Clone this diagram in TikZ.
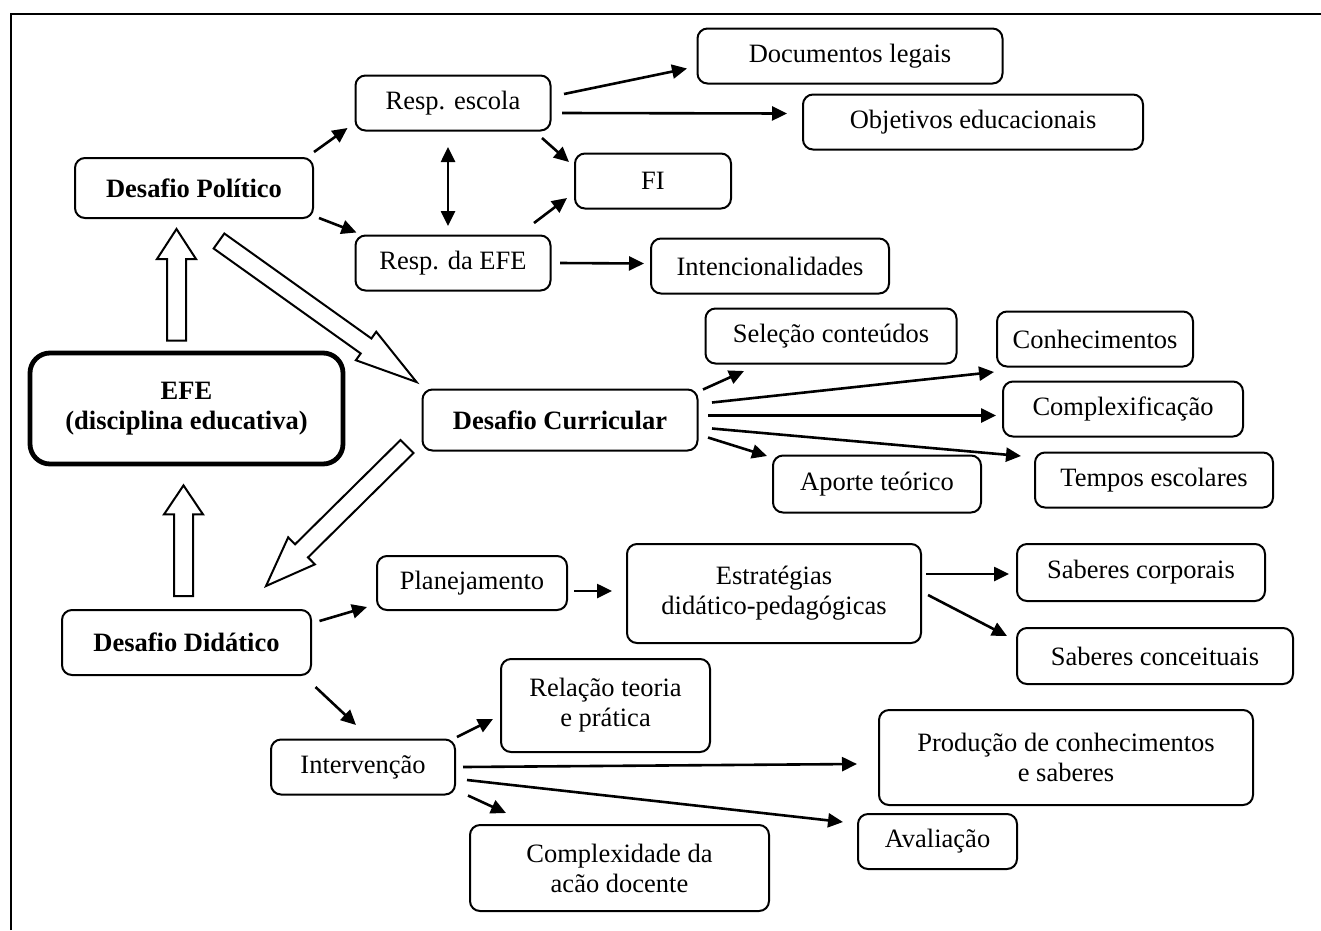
\documentclass[tikz,border=0pt]{standalone}
\usepackage{fontspec}
\setmainfont{Liberation Serif}
\usetikzlibrary{arrows.meta,calc}
\tikzset{
  box/.style={draw, line width=2pt, rounded corners=10pt, inner sep=0pt, align=center,
    font=\fontsize{26.5}{30}\selectfont},
  bbox/.style={box, font=\fontsize{26.5}{30}\selectfont\bfseries},
  sz/.style 2 args={minimum width=#1pt, minimum height=#2pt},
  conn/.style={line width=2.6pt, -{Triangle[length=15pt,width=14pt]}},
  dconn/.style={line width=2.6pt, {Triangle[length=15pt,width=14pt]}-{Triangle[length=15pt,width=14pt]}},
  blk/.style={draw, line width=2pt, fill=white, line join=miter},
  frame/.style={line width=2pt},
}
% #1 start, #2 tip, #3 shaft half width, #4 head half width, #5 head length
\newcommand\blockarr[5]{%
  \coordinate (bH) at ($(#2)!#5!(#1)$);
  \draw[blk] ($(#1)!#3!90:(#2)$) -- ($(bH)!#3!-90:(#1)$) -- ($(bH)!#4!-90:(#1)$)
     -- (#2) -- ($(bH)!#4!90:(#1)$) -- ($(bH)!#3!90:(#1)$) -- ($(#1)!#3!-90:(#2)$) -- cycle;
}
\begin{document}
\begin{tikzpicture}[x=1pt,y=-1pt]
\useasboundingbox (0,0) rectangle (1321,930);
\coordinate (fA) at (11,930);
\coordinate (fB) at (11,14);
\coordinate (fC) at (1321,14);
\draw[frame] (fA) -- (fB) -- (fC);

% nodes
\node[bbox, sz={238}{60}] (pol) at (194,188) {Desafio Político};
\node[box, sz={195}{55}] (esc) at (453,103) {Resp. escola};
\node[box, sz={195}{55}] (efr) at (453,263) {Resp. da EFE};
\node[box, sz={305}{55}] (doc) at (850,56) {Documentos legais};
\node[box, sz={340}{55}] (obj) at (973,122) {Objetivos educacionais};
\node[box, sz={156}{55}] (fi) at (653,181) {FI};
\node[box, sz={238}{55}] (int) at (770,266) {Intencionalidades};
\node[bbox, sz={313}{111}, line width=4.8pt, rounded corners=20pt] (efe) at (186.5,408.5) {EFE\\(disciplina educativa)};
\node[bbox, sz={275}{61}] (cur) at (560,420) {Desafio Curricular};
\node[box, sz={251}{55}] (sel) at (831,336) {Seleção conteúdos};
\node[box, sz={196}{55}] (con) at (1095,339) {Conhecimentos};
\node[box, sz={240}{55}] (cpx) at (1123,409) {Complexificação};
\node[box, sz={238}{55}] (tem) at (1154,480) {Tempos escolares};
\node[box, sz={208}{57}] (apo) at (877,484) {Aporte teórico};
\node[bbox, sz={249}{65}] (did) at (186.5,642.5) {Desafio Didático};
\node[box, sz={190}{54}] (pla) at (472,583) {Planejamento};
\node[box, sz={294}{99}] (est) at (774,593.5) {Estratégias\\didático-pedagógicas};
\node[box, sz={248}{57}] (sco) at (1141,572.5) {Saberes corporais};
\node[box, sz={276}{56}] (sce) at (1155,656) {Saberes conceituais};
\node[box, sz={184}{55}] (itv) at (363,767) {Intervenção};
\node[box, sz={209}{93}] (rel) at (605.5,705.5) {Relação teoria\\e prática};
\node[box, sz={374}{95}] (pro) at (1066,757.5) {Produção de conhecimentos\\e saberes};
\node[box, sz={299}{86}] (cxd) at (619.5,868) {Complexidade da\\acão docente};
\node[box, sz={159}{55}] (ava) at (937.5,841.5) {Avaliação};

% connectors
\draw[conn] ([yshift=5pt]pol.north east) -- ([xshift=-7pt,yshift=3.5pt]esc.south west);
\draw[conn] ([xshift=5pt,yshift=1pt]pol.south east) -- ([xshift=2pt,yshift=2pt]efr.north west);
\draw[conn] ([xshift=12.5pt,yshift=9pt]esc.east) -- ([xshift=-9.5pt,yshift=-12.5pt]doc.west);
\draw[conn] ([xshift=10.5pt,yshift=-10pt]esc.east) -- ([xshift=-15pt,yshift=8.5pt]obj.west);
\draw[conn] ([xshift=-9.5pt,yshift=-6.5pt]esc.south east) -- ([xshift=-5pt,yshift=-9.5pt]fi.north west);
\draw[conn] ([xshift=-17.5pt,yshift=11.5pt]efr.north east) -- ([xshift=-7pt,yshift=11.5pt]fi.south west);
\draw[dconn] ([xshift=-5pt,yshift=-15.5pt]esc.south) -- ([xshift=-5pt,yshift=8.5pt]efr.north);
\draw[conn] ([xshift=8.5pt]efr.east) -- ([xshift=-6pt,yshift=2.5pt]int.west);

\draw[conn] ([xshift=4.5pt,yshift=30.5pt]cur.east) -- ([xshift=39.5pt,yshift=-6.5pt]sel.south west);
\draw[conn] ([xshift=13.5pt,yshift=17.5pt]cur.east) -- ([xshift=-2pt,yshift=-4.5pt]con.south west);
\draw[conn] ([xshift=9.5pt,yshift=4.5pt]cur.east) -- ([xshift=-6pt,yshift=-6.5pt]cpx.west);
\draw[conn] ([xshift=13.5pt,yshift=-8.5pt]cur.east) -- ([xshift=-13pt,yshift=-4.5pt]tem.north west);
\draw[conn] ([xshift=9.5pt,yshift=-17.5pt]cur.east) -- ([xshift=-5pt,yshift=-1.5pt]apo.north west);

\draw[conn] ([xshift=7.5pt,yshift=21.5pt]did.east) -- ([xshift=-9pt,yshift=4pt]pla.south west);
\draw[conn] ([xshift=3.5pt,yshift=-11pt]did.south east) -- ([xshift=-7pt,yshift=13.5pt]itv.north);
\draw[conn] ([xshift=6pt,yshift=-8pt]pla.east) -- ([xshift=-14pt,yshift=2.5pt]est.west);
\draw[conn] ([xshift=4pt,yshift=19.5pt]est.east) -- ([xshift=-7pt,yshift=-1.5pt]sco.west);
\draw[conn] ([xshift=6pt,yshift=-1.5pt]est.east) -- ([xshift=-9pt,yshift=-9pt]sce.north west);

\draw[conn] ([xshift=1pt,yshift=1.5pt]itv.north east) -- ([xshift=-7pt,yshift=-13.5pt]rel.west);
\draw[conn] ([xshift=7pt]itv.east) -- ([xshift=-21pt,yshift=-6.5pt]pro.west);
\draw[conn] ([xshift=11pt,yshift=-13pt]itv.east) -- ([xshift=-14pt,yshift=19.5pt]ava.west);
\draw[conn] ([xshift=12pt]itv.south east) -- ([xshift=37pt,yshift=11pt]cxd.north west);

% block arrows
\coordinate (b1s) at ([xshift=-10pt,yshift=10pt]efe.north);
\coordinate (b1t) at ([xshift=-17.5pt,yshift=-10pt]pol.south);
\blockarr{b1s}{b1t}{9.5pt}{19.5pt}{30pt}
\coordinate (b2s) at ([xshift=-3pt,yshift=13pt]did.north);
\coordinate (b2t) at ([xshift=-3pt,yshift=-19pt]efe.south);
\blockarr{b2s}{b2t}{9.5pt}{19.5pt}{29pt}
\coordinate (b3s) at ([xshift=-95pt,yshift=-22pt]pol.south east);
\coordinate (b3t) at ([xshift=-5pt,yshift=6.5pt]cur.north west);
\blockarr{b3s}{b3t}{9.2pt}{17.5pt}{62pt}
\coordinate (b4s) at ([xshift=-14.5pt,yshift=5pt]cur.south west);
\coordinate (b4t) at ([xshift=-46pt,yshift=23pt]did.north east);
\blockarr{b4s}{b4t}{9.2pt}{19pt}{50pt}
\end{tikzpicture}
\end{document}
